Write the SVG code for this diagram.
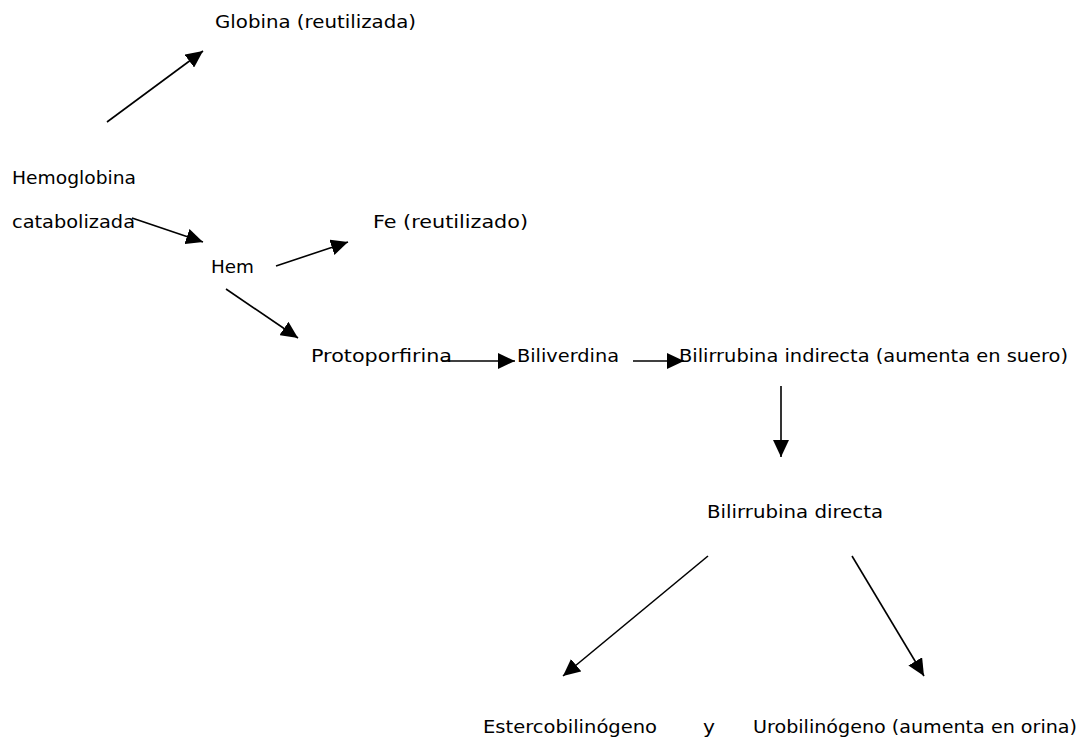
<svg xmlns="http://www.w3.org/2000/svg" width="1084" height="749" viewBox="0 0 1084 749">
<style>
.t{font-family:"DejaVu Sans","Liberation Sans",sans-serif;font-size:18px;fill:#000}
.c{stroke:#000;stroke-width:1.6;fill:none}
</style>
<defs>
<marker id="ah" markerUnits="userSpaceOnUse" markerWidth="17" markerHeight="16" refX="17" refY="8" orient="auto">
<path d="M0,0 L17,8 L0,16 z" fill="#000"/>
</marker>
</defs>
<rect width="1084" height="749" fill="#fff"/>
<g id="connectors">
<line class="c" x1="107" y1="122" x2="203" y2="51" marker-end="url(#ah)"/>
<line class="c" x1="132" y1="218" x2="203" y2="242" marker-end="url(#ah)"/>
<line class="c" x1="276" y1="266" x2="348" y2="242" marker-end="url(#ah)"/>
<line class="c" x1="226" y1="289" x2="298" y2="338" marker-end="url(#ah)"/>
<line class="c" x1="442" y1="361" x2="515" y2="361" marker-end="url(#ah)"/>
<line class="c" x1="633" y1="361" x2="684" y2="361" marker-end="url(#ah)"/>
<line class="c" x1="781" y1="386" x2="781" y2="457" marker-end="url(#ah)"/>
<line class="c" x1="708" y1="556" x2="563" y2="676" marker-end="url(#ah)"/>
<line class="c" x1="852" y1="556" x2="924" y2="676" marker-end="url(#ah)"/>
</g>
<g id="globina"><text class="t" x="215" y="28" textLength="201" lengthAdjust="spacingAndGlyphs">Globina (reutilizada)</text></g>
<g id="hemoglobina"><text class="t" x="12" y="184" textLength="124" lengthAdjust="spacingAndGlyphs">Hemoglobina</text><text class="t" x="12" y="228" textLength="123" lengthAdjust="spacingAndGlyphs">catabolizada</text></g>
<g id="fe"><text class="t" x="373" y="228" textLength="155" lengthAdjust="spacingAndGlyphs">Fe (reutilizado)</text></g>
<g id="hem"><text class="t" x="211" y="273" textLength="43" lengthAdjust="spacingAndGlyphs">Hem</text></g>
<g id="protoporfirina"><text class="t" x="311" y="362" textLength="141" lengthAdjust="spacingAndGlyphs">Protoporfirina</text></g>
<g id="biliverdina"><text class="t" x="517" y="362" textLength="102" lengthAdjust="spacingAndGlyphs">Biliverdina</text></g>
<g id="bilirrubina-indirecta"><text class="t" x="679" y="362" textLength="389" lengthAdjust="spacingAndGlyphs">Bilirrubina indirecta (aumenta en suero)</text></g>
<g id="bilirrubina-directa"><text class="t" x="707" y="518" textLength="176" lengthAdjust="spacingAndGlyphs">Bilirrubina directa</text></g>
<g id="estercobilinogeno"><text class="t" x="483" y="733" textLength="174" lengthAdjust="spacingAndGlyphs">Estercobilinógeno</text></g>
<g id="y"><text class="t" x="703" y="733" textLength="12" lengthAdjust="spacingAndGlyphs">y</text></g>
<g id="urobilinogeno"><text class="t" x="753" y="733" textLength="324" lengthAdjust="spacingAndGlyphs">Urobilinógeno (aumenta en orina)</text></g>
</svg>
